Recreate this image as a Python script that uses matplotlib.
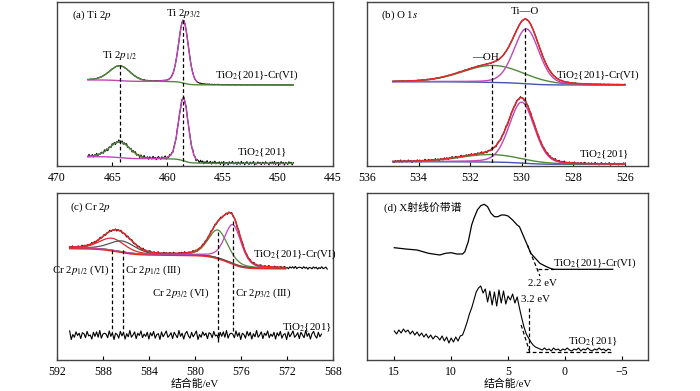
import numpy as np
import matplotlib
matplotlib.use("Agg")
from matplotlib import pyplot as plt

plt.rcParams['font.family'] = ['Liberation Serif', 'DejaVu Serif', 'Noto Sans CJK SC']
plt.rcParams['mathtext.fontset'] = 'stix'

# typed residual noise, reused for the raw spectra
NOISE = [0.2, -0.6, 0.9, -0.3, 0.5, -1.0, 0.4, 0.1, -0.7, 0.8,
         -0.2, 0.6, -0.9, 0.3, -0.4, 1.0, -0.5, 0.0, 0.7, -0.8,
         0.4, -0.1, 0.9, -0.6, 0.2, -0.3, 0.6, -0.9, 0.5, -0.2,
         0.8, -0.7, 0.1, 0.3, -1.0, 0.7, -0.4, 0.2, 0.9, -0.5,
         -0.1, 0.5, -0.8, 0.6, 0.0, -0.6, 1.0, -0.3, 0.4, -0.9,
         0.3, 0.8, -0.2, -0.7, 0.6, -0.4, 0.2, 0.9, -1.0, 0.1,
         -0.5, 0.7, -0.1, 0.4, -0.8, 0.5, 0.3, -0.6, 0.8, -0.2,
         0.0, -0.9, 0.6, -0.3, 0.7, -0.5, 1.0, -0.7, 0.2, 0.4]

# (a) Ti 2p : [2p1/2, 2p3/2]
A_RANGE = (467.2, 448.6)
A_CENTERS = [464.3, 458.55]
A_FWHM = [2.2, 1.05]
A_TOP_H = [15, 63]
A_BOT_H = [16, 63]
A_TOP_BG = (86, 81)
A_BOT_BG = (9.3, 2.7)

# (b) O 1s : [-OH, Ti-O]
B_RANGE = (535.0, 526.0)
B_TOP_CENTERS = [531.1, 529.82]
B_BOT_CENTERS = [531.2, 530.0]
B_FWHM = [2.8, 1.15]
B_TOP_H = [17, 55]
B_BOT_H = [7.5, 61]
B_TOP_BG = (84.3, 81)
B_BOT_BG = (4.3, 1.7)

# (c) Cr 2p : [2p1/2(VI), 2p1/2(III), 2p3/2(VI), 2p3/2(III)]
C_RANGE = (590.9, 568.5)
C_FIT_END = 572.0
C_CENTERS = [587.2, 586.3, 578.0, 576.7]
C_FWHM = [2.6, 2.6, 2.0, 1.7]
C_H = [12, 11, 28, 39]
C_BG = (112, 91.7)
C_BOT_LEVEL = 25

# (d) valence band
D_TOP_X = [15, 14, 13, 12, 11, 10.5, 10, 9.5, 9, 8.8, 8.5, 8.2, 8.0, 7.7, 7.4, 7.1,
           6.8, 6.5, 6.2, 5.9, 5.6, 5.3, 5.0, 4.6, 4.2, 4.0, 3.5, 3.0, 2.6, 2.2, 1.8,
           1.3, 1.0, -4.2]
D_TOP_Y = [112.3, 111, 110, 106.7, 105, 106.7, 107.3, 106, 106, 108.3, 118.3, 135,
           141.7, 150, 154.3, 155.7, 153.3, 146.7, 143.3, 143.3, 145, 145, 144, 140,
           135, 133.3, 120, 106.7, 101.7, 96.7, 94.3, 91.7, 90.7, 90.7]
D_BOT_X = np.linspace(15, -4, 96)
D_BOT_Y = [29, 26, 30, 27, 31, 28, 30, 26, 29, 25,
           28, 24, 27, 23, 26, 22, 25, 21, 24, 23,
           20, 24, 19, 23, 17, 22, 18, 23, 19, 24,
           25, 31, 38, 46, 52, 60, 68, 72, 74, 67,
           71, 58, 69, 55, 68, 54, 70, 57, 69, 56,
           64, 60, 66, 57, 63, 52, 42, 33, 26, 22,
           18, 15, 13, 12, 11, 10, 12, 10, 11, 9,
           12, 10, 11, 9, 11, 10, 12, 10, 9, 11,
           10, 12, 9, 11, 10, 12, 10, 9, 11, 10,
           12, 10, 11, 9, 11, 10]
D_GAPS = [2.2, 3.2]

RED = '#e3282c'
MAG = '#c047b8'
GRN = '#4f8a3c'
BLU = '#4356a8'
GRY = '#555555'
DASH = (0, (3, 2))
CR6 = 'TiO$_2${201}-Cr(VI)'
TIO2 = 'TiO$_2${201}'
FS = 7.8


def peak(x, c, h, fwhm, m=0.2):
    d = (x - c) / fwhm
    return h * ((1 - m) * np.exp(-4 * np.log(2) * d ** 2) + m / (1 + 4 * d ** 2))


def shirley(total, left, right):
    cum = np.cumsum(total[::-1])[::-1]
    return right + (left - right) * cum / cum[0]


def noise(n, amp, shift=0):
    return amp * np.roll(np.resize(np.array(NOISE), n), shift)


def style(ax, xlim, ylim, ticks):
    ax.set_xlim(*xlim)
    ax.set_ylim(*ylim)
    ax.set_xticks(ticks)
    ax.set_yticks([])
    ax.tick_params(axis='x', direction='in', length=3, labelsize=8.5, pad=4)
    for s in ax.spines.values():
        s.set_color('#444444')
        s.set_linewidth(1.0)


def vdash(ax, x, y0, y1):
    ax.plot([x, x], [y0, y1], color='k', lw=0.9, ls=DASH)


fig = plt.figure(figsize=(7, 3.91), dpi=100)
ax_a = fig.add_axes([57 / 700, 1 - 166 / 391, 276 / 700, 164 / 391])
ax_b = fig.add_axes([367 / 700, 1 - 166 / 391, 281 / 700, 164 / 391])
ax_c = fig.add_axes([57 / 700, 1 - 360 / 391, 276 / 700, 167 / 391])
ax_d = fig.add_axes([367 / 700, 1 - 360 / 391, 281 / 700, 167 / 391])

# ---------- (a) ----------
xa = np.linspace(A_RANGE[0], A_RANGE[1], 187)
for heights, bgl, amp, sh in [(A_TOP_H, A_TOP_BG, 0.3, 0), (A_BOT_H, A_BOT_BG, 1.8, 13)]:
    p1 = peak(xa, A_CENTERS[0], heights[0], A_FWHM[0])
    p2 = peak(xa, A_CENTERS[1], heights[1], A_FWHM[1])
    bg = shirley(p1 + p2, *bgl)
    ax_a.plot(xa, bg + p1 + p2 + noise(len(xa), amp, sh), color='k', lw=0.8)
    ax_a.plot(xa, bg + p1, color=GRN, lw=1.0)
    m = xa >= 457.3
    ax_a.plot(xa[m], (bg + p2)[m], color=MAG, lw=1.0)
vdash(ax_a, A_CENTERS[0], 101, 4)
vdash(ax_a, A_CENTERS[1], 146, 0)
ax_a.text(468.6, 151, '(a) Ti 2$p$', fontsize=FS, va='center')
ax_a.text(A_CENTERS[1], 153, 'Ti 2$p_{3/2}$', fontsize=FS, ha='center', va='center')
ax_a.text(A_CENTERS[0], 111, 'Ti 2$p_{1/2}$', fontsize=FS, ha='center', va='center')
ax_a.text(455.7, 91, CR6, fontsize=FS, va='center')
ax_a.text(453.7, 13, TIO2, fontsize=FS, va='center')
style(ax_a, (470, 445), (0, 164), [470, 465, 460, 455, 450, 445])

# ---------- (b) ----------
xb = np.linspace(B_RANGE[0], B_RANGE[1], 181)
for cens, heights, bgl, amp, sh in [(B_TOP_CENTERS, B_TOP_H, B_TOP_BG, 0.4, 5),
                                    (B_BOT_CENTERS, B_BOT_H, B_BOT_BG, 1.3, 31)]:
    p1 = peak(xb, cens[0], heights[0], B_FWHM[0], m=0.1)
    p2 = peak(xb, cens[1], heights[1], B_FWHM[1])
    bg = shirley(p1 + p2, *bgl)
    ax_b.plot(xb, bg + p1 + p2 + noise(len(xb), amp, sh), color='k', lw=0.8)
    ax_b.plot(xb, bg, color=BLU, lw=1.0)
    ax_b.plot(xb, bg + p1, color=GRN, lw=1.0)
    ax_b.plot(xb, bg + p2, color=MAG, lw=1.0)
    ax_b.plot(xb, bg + p1 + p2, color=RED, lw=1.1)
vdash(ax_b, 531.17, 101, 3)
vdash(ax_b, 529.87, 138, 0)
ax_b.text(535.46, 151, '(b) O 1$s$', fontsize=FS, va='center')
ax_b.text(529.87, 154, 'Ti—O', fontsize=FS, ha='center', va='center')
ax_b.text(531.4, 109, '—OH', fontsize=FS, ha='center', va='center')
ax_b.text(528.67, 91, CR6, fontsize=FS, va='center')
ax_b.text(527.76, 11, TIO2, fontsize=FS, va='center')
style(ax_b, (536, 525.1), (0, 164), [536, 534, 532, 530, 528, 526])

# ---------- (c) ----------
xc = np.linspace(C_RANGE[0], C_RANGE[1], 187)
comps = [peak(xc, c, h, w, m=0.3) for c, h, w in zip(C_CENTERS, C_H, C_FWHM)]
env = sum(comps)
bg = shirley(env, *C_BG)
ax_c.plot(xc, bg + env + noise(len(xc), 1.3, 7), color='k', lw=0.8)
fit = xc >= C_FIT_END
ax_c.plot(xc[fit], bg[fit], color=GRN, lw=0.9)
for comp, col in zip(comps, [RED, GRY, GRN, MAG]):
    ax_c.plot(xc[fit], (bg + comp)[fit], color=col, lw=0.9)
ax_c.plot(xc[fit], bg[fit] - 0.8, color=RED, lw=0.9)
ax_c.plot(xc[fit], (bg + env)[fit], color=RED, lw=1.1)
xc2 = np.linspace(590.9, 569.0, 160)
ax_c.plot(xc2, C_BOT_LEVEL + noise(len(xc2), 4.5, 23), color='k', lw=0.8)
vdash(ax_c, C_CENTERS[0], 110, 28)
vdash(ax_c, C_CENTERS[1], 110, 28)
vdash(ax_c, C_CENTERS[2], 128, 17)
vdash(ax_c, C_CENTERS[3], 139, 28)
ax_c.text(590.9, 153, '(c) Cr 2$p$', fontsize=FS, va='center')
ax_c.text(587.45, 90, 'Cr 2$p_{1/2}$ (VI)', fontsize=FS, ha='right', va='center')
ax_c.text(586.1, 90, 'Cr 2$p_{1/2}$ (III)', fontsize=FS, ha='left', va='center')
ax_c.text(578.7, 67, 'Cr 2$p_{3/2}$ (VI)', fontsize=FS, ha='right', va='center')
ax_c.text(576.5, 67, 'Cr 2$p_{3/2}$ (III)', fontsize=FS, ha='left', va='center')
ax_c.text(574.95, 106, CR6, fontsize=FS, va='center')
ax_c.text(572.4, 32, TIO2, fontsize=FS, va='center')
style(ax_c, (592, 568), (0, 167), [592, 588, 584, 580, 576, 572, 568])
ax_c.set_xlabel('结合能/eV', fontsize=FS, labelpad=1)

# ---------- (d) ----------
ax_d.plot(D_TOP_X, D_TOP_Y, color='k', lw=0.9)
ax_d.plot(D_BOT_X, D_BOT_Y, color='k', lw=0.8)
ax_d.plot([3.3, 2.2], [115, 84], color='k', lw=0.9, ls=DASH)
ax_d.plot([2.4, 1.0], [91, 91], color='k', lw=0.9, ls=DASH)
ax_d.plot([3.85, 3.1], [35, 8], color='k', lw=0.9, ls=DASH)
ax_d.plot([3.4, -4.2], [8, 8], color='k', lw=0.9, ls=DASH)
vdash(ax_d, D_GAPS[1], 52, 8)
ax_d.text(15.9, 153, '(d) X射线价带谱', fontsize=FS, va='center')
ax_d.text(1.95, 76, '%.1f eV' % D_GAPS[0], fontsize=FS, ha='center', va='center')
ax_d.text(2.6, 61, '%.1f eV' % D_GAPS[1], fontsize=FS, ha='center', va='center')
ax_d.text(1.05, 97, CR6, fontsize=FS, va='center')
ax_d.text(-0.26, 18, TIO2, fontsize=FS, va='center')
style(ax_d, (17.4, -7.3), (0, 167), [15, 10, 5, 0, -5])
ax_d.set_xlabel('结合能/eV', fontsize=FS, labelpad=1)

fig.savefig('out.png', dpi=100)
